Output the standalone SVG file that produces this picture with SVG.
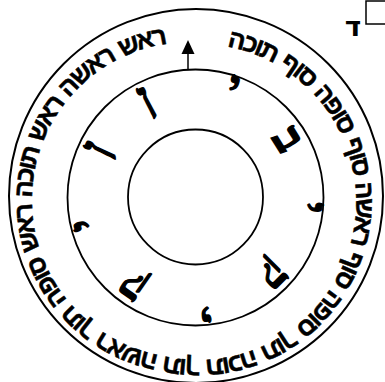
<svg xmlns="http://www.w3.org/2000/svg" width="385" height="382" viewBox="0 0 385 382">
<style>
.ring{fill:none;stroke:#000;stroke-width:1.8}
.heb{font-family:"Liberation Sans","DejaVu Sans",sans-serif;font-weight:bold;fill:#000;stroke:#000;stroke-width:0.5}
.mark{font-family:"Liberation Serif","DejaVu Serif",serif;font-weight:bold;font-size:44px;fill:#000;stroke:#000;stroke-width:1.3;text-anchor:middle;dominant-baseline:central}
</style>
<defs>
<path id="tp" d="M226.8,46.5 A158,158 0 1 1 161.2,355.5 A158,158 0 1 1 226.8,46.5"/>
</defs>
<rect width="385" height="382" fill="#fff"/>
<g id="rings">
<circle class="ring" cx="196" cy="196" r="187" style="stroke-width:2"/>
<circle class="ring" cx="195.5" cy="197.5" r="128"/>
<circle class="ring" cx="195.5" cy="197" r="67.5"/>
</g>
<g id="outer-text">
<text class="heb" font-size="25.5" word-spacing="2"><textPath href="#tp" textLength="950" lengthAdjust="spacing">ראש ראשה ראש תוכה ראש סופה תוך ראשה תוך תוכה תוך סופה סוף ראשה סוף סופה סוף תוכה</textPath></text>
</g>
<g id="marks">
<text class="mark" transform="translate(195.5,197) rotate(19) translate(0,-117)">י</text>
<text class="mark" transform="translate(195.5,197) rotate(58) translate(0,-110)">ב</text>
<text class="mark" transform="translate(195.5,197) rotate(95) translate(0,-117)">י</text>
<text class="mark" transform="translate(195.5,197) rotate(135) translate(0,-112)">ק</text>
<text class="mark" transform="translate(195.5,197) rotate(175) translate(0,-115)">י</text>
<text class="mark" transform="translate(195.5,197) rotate(215) translate(0,-111)">ק</text>
<text class="mark" transform="translate(195.5,197) rotate(256) translate(0,-115)">י</text>
<text class="mark" transform="translate(195.5,197) rotate(296) translate(0,-112)">ן</text>
<text class="mark" transform="translate(195.5,197) rotate(333) translate(0,-112)">ן</text>
</g>
<g id="connectors">
<line x1="188" y1="70" x2="188" y2="53" stroke="#000" stroke-width="1.5"/>
<polygon points="188,40 181.5,54 194.5,54" fill="#000"/>
</g>
<g id="corner">
<rect x="366" y="1" width="30" height="23" fill="none" stroke="#000" stroke-width="1.5"/>
<text x="353" y="36" font-size="28" text-anchor="middle" font-family="DejaVu Sans,sans-serif" font-weight="bold">ד</text>
</g>
</svg>
